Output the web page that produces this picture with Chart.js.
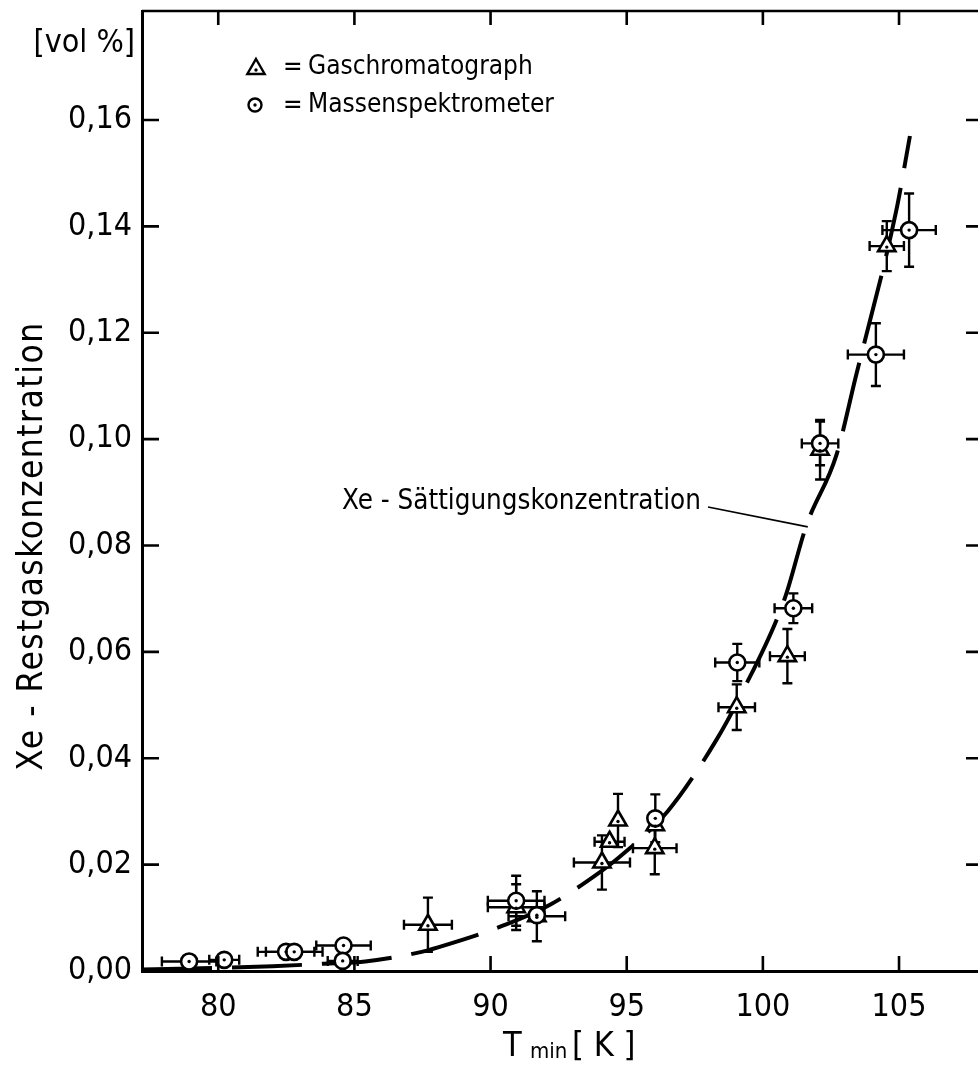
<!DOCTYPE html>
<html>
<head>
<meta charset="utf-8">
<script src="https://cdn.jsdelivr.net/npm/chart.js@4.4.1/dist/chart.umd.min.js"></script>
<style>
  html, body { margin: 0; padding: 0; background: #fff; overflow: hidden; }
  #wrap { position: relative; width: 978px; height: 1072px; }
</style>
</head>
<body>
<div id="wrap"><canvas id="myChart"></canvas></div>
<script>
var FONT = '"DejaVu Sans Condensed", "Liberation Sans Narrow", "Arial Narrow", sans-serif';

// axis ticks
var xTicks = [80, 85, 90, 95, 100, 105];
var yTicks = [0, 0.02, 0.04, 0.06, 0.08, 0.10, 0.12, 0.14, 0.16];

// Gaschromatograph (triangles): T_min [K], conc [vol %], errors
var gcT    = [87.7, 90.94, 91.7, 94.09, 94.37, 94.68, 96.05, 96.03, 99.04, 100.9, 102.1, 104.55];
var gcC    = [0.0087, 0.0120, 0.0103, 0.0204, 0.0243, 0.0283, 0.0274, 0.0231, 0.0496, 0.0592, 0.0980, 0.1363];
var gcTErr = [0.88, 1.04, 1.04, 1.03, 0.55, 0, 0, 0.8, 0.67, 0.64, 0, 0.63];
var gcCErr = [0.0051, 0.0043, 0.0047, 0.0051, 0, 0.005, 0, 0.0049, 0.0043, 0.0051, 0.0056, 0.0047];

// Massenspektrometer (circles)
var msT    = [78.93, 80.22, 82.49, 82.79, 84.6, 84.57, 90.94, 91.7, 96.05, 99.06, 101.12, 102.1, 104.15, 105.37];
var msC    = [0.0018, 0.0021, 0.0036, 0.0036, 0.0048, 0.0019, 0.0132, 0.0105, 0.0287, 0.0580, 0.0682, 0.0992, 0.1159, 0.1393];
var msTErr = [1.0, 0.55, 1.04, 1.04, 1.0, 0.55, 1.04, 0, 0, 0.81, 0.69, 0.67, 1.03, 0.98];
var msCErr = [0, 0, 0, 0, 0, 0, 0.0047, 0, 0.0045, 0.0035, 0.0028, 0.0041, 0.0059, 0.0069];

// Xe saturation curve
var satT = [77.2, 80, 82, 84, 85.4, 87.3, 88.1, 90.6, 92.2, 93.8, 94.7, 96.5, 98.3, 99.2, 100.8, 101.6, 102.7, 103.4, 104.9, 105.4];
var satC = [0.0003, 0.0006, 0.0009, 0.0014, 0.0018, 0.0034, 0.0045, 0.0088, 0.0125, 0.0178, 0.0213, 0.0300, 0.0435, 0.0520, 0.0700, 0.0838, 0.0970, 0.1115, 0.1430, 0.1570];

function points(xs, ys) {
  return xs.map(function (x, i) { return { x: x, y: ys[i] }; });
}

// keep the frame where the original has it: no extra room for tick labels
function noPadding(scale) {
  scale.paddingTop = 0;
  scale.paddingBottom = 0;
  scale.paddingLeft = 0;
  scale.paddingRight = 0;
}

var figurePlugin = {
  id: 'figure',
  beforeDatasetsDraw: function (chart) {
    var ctx = chart.ctx, sx = chart.scales.x, sy = chart.scales.y;
    ctx.save();
    ctx.strokeStyle = '#000';
    ctx.lineWidth = 2.4;
    chart.data.datasets.forEach(function (ds) {
      if (!ds.errX) return;
      ds.data.forEach(function (p, i) {
        var px = sx.getPixelForValue(p.x), py = sy.getPixelForValue(p.y);
        var ex = ds.errX[i], ey = ds.errY[i];
        ctx.beginPath();
        if (ex) {
          var x0 = sx.getPixelForValue(p.x - ex), x1 = sx.getPixelForValue(p.x + ex);
          ctx.moveTo(x0, py); ctx.lineTo(x1, py);
          ctx.moveTo(x0, py - 5); ctx.lineTo(x0, py + 5);
          ctx.moveTo(x1, py - 5); ctx.lineTo(x1, py + 5);
        }
        if (ey) {
          var y0 = sy.getPixelForValue(p.y - ey), y1 = sy.getPixelForValue(p.y + ey);
          ctx.moveTo(px, y0); ctx.lineTo(px, y1);
          ctx.moveTo(px - 5, y0); ctx.lineTo(px + 5, y0);
          ctx.moveTo(px - 5, y1); ctx.lineTo(px + 5, y1);
        }
        ctx.stroke();
      });
    });
    ctx.restore();
  },
  afterDatasetsDraw: function (chart) {
    var ctx = chart.ctx;
    ctx.save();
    ctx.fillStyle = '#000';
    chart.data.datasets.forEach(function (ds, di) {
      if (!ds.errX) return;
      chart.getDatasetMeta(di).data.forEach(function (el) {
        ctx.beginPath();
        ctx.arc(el.x, el.y + (ds.pointStyle === 'triangle' ? 1 : 0), 1.7, 0, Math.PI * 2);
        ctx.fill();
      });
    });
    ctx.restore();
  },
  afterDraw: function (chart) {
    var ctx = chart.ctx, a = chart.chartArea, sx = chart.scales.x, sy = chart.scales.y;
    ctx.save();
    ctx.strokeStyle = '#000';
    ctx.fillStyle = '#000';

    // top frame line
    ctx.lineWidth = 2.6;
    ctx.beginPath();
    ctx.moveTo(a.left, a.top); ctx.lineTo(a.right, a.top);
    ctx.stroke();

    // inward ticks on all four sides
    ctx.beginPath();
    xTicks.forEach(function (v) {
      var x = sx.getPixelForValue(v);
      ctx.moveTo(x, a.bottom); ctx.lineTo(x, a.bottom - 15);
      ctx.moveTo(x, a.top); ctx.lineTo(x, a.top + 14);
    });
    yTicks.forEach(function (v) {
      if (v === 0) return;
      var y = sy.getPixelForValue(v);
      ctx.moveTo(a.left, y); ctx.lineTo(a.left + 17, y);
      ctx.moveTo(a.right, y); ctx.lineTo(a.right - 12, y);
    });
    ctx.stroke();

    // legend
    ctx.lineWidth = 2.4;
    ctx.fillStyle = '#fff';
    Chart.helpers.drawPoint(ctx, { pointStyle: 'triangle', radius: 10, borderWidth: 2.4 }, 256, 69);
    Chart.helpers.drawPoint(ctx, { pointStyle: 'circle', radius: 6.5, borderWidth: 2.4 }, 255, 105);
    ctx.fillStyle = '#000';
    ctx.beginPath(); ctx.arc(256, 70, 1.7, 0, Math.PI * 2); ctx.fill();
    ctx.beginPath(); ctx.arc(255, 105, 1.7, 0, Math.PI * 2); ctx.fill();
    ctx.font = '26px ' + FONT;
    ctx.textBaseline = 'middle';
    ctx.textAlign = 'left';
    ctx.fillText('=', 283, 68);
    ctx.fillText('Gaschromatograph', 308, 67);
    ctx.fillText('=', 283, 106);
    ctx.fillText('Massenspektrometer', 308, 105);

    // curve label with leader line
    ctx.font = '27.5px ' + FONT;
    ctx.fillText('Xe - S\u00e4ttigungskonzentration', 342, 502);
    ctx.lineWidth = 1.6;
    ctx.beginPath();
    ctx.moveTo(708, 507);
    ctx.lineTo(sx.getPixelForValue(101.65), sy.getPixelForValue(0.0835));
    ctx.stroke();

    // unit above y axis
    ctx.font = '32px ' + FONT;
    ctx.textAlign = 'right';
    ctx.fillText('[vol %]', 135, 44);

    // y axis title
    ctx.save();
    ctx.translate(33, 546);
    ctx.rotate(-Math.PI / 2);
    ctx.textAlign = 'center';
    ctx.font = '35px ' + FONT;
    ctx.letterSpacing = '1.5px';
    ctx.fillText('Xe - Restgaskonzentration', 0, 0);
    ctx.restore();

    // x axis title with subscript
    ctx.textAlign = 'left';
    ctx.textBaseline = 'alphabetic';
    ctx.font = '34px ' + FONT;
    ctx.fillText('T', 503, 1056);
    ctx.font = '22px ' + FONT;
    ctx.fillText('min', 530, 1058);
    ctx.font = '34px ' + FONT;
    ctx.fillText('[ K ]', 572, 1056);
    ctx.restore();
  }
};

new Chart('myChart', {
  type: 'scatter',
  data: {
    datasets: [{
      label: 'Gaschromatograph',
      data: points(gcT, gcC),
      errX: gcTErr,
      errY: gcCErr,
      pointStyle: 'triangle',
      pointRadius: 10,
      borderWidth: 2.6,
      borderColor: '#000',
      backgroundColor: '#fff',
      order: 2
    }, {
      label: 'Massenspektrometer',
      data: points(msT, msC),
      errX: msTErr,
      errY: msCErr,
      pointStyle: 'circle',
      pointRadius: 8,
      borderWidth: 2.6,
      borderColor: '#000',
      backgroundColor: '#fff',
      order: 1
    }, {
      label: 'Xe - Saettigungskonzentration',
      type: 'line',
      data: points(satT, satC),
      showLine: true,
      pointRadius: 0,
      borderColor: '#000',
      borderWidth: 4,
      borderDash: [70, 20],
      cubicInterpolationMode: 'monotone',
      fill: false,
      order: 3
    }]
  },
  options: {
    responsive: true,
    maintainAspectRatio: false,
    devicePixelRatio: 1,
    animation: false,
    layout: { autoPadding: false, padding: { top: 11, right: 0, left: 0, bottom: 0 } },
    plugins: {
      legend: { display: false },
      tooltip: { enabled: false },
      title: { display: false }
    },
    scales: {
      x: {
        type: 'linear',
        min: 77.2,
        max: 107.9,
        afterBuildTicks: function (scale) {
          scale.ticks = xTicks.map(function (v) { return { value: v }; });
        },
        afterFit: function (scale) { scale.height = 101; noPadding(scale); },
        grid: { display: false, drawTicks: false },
        border: { display: true, color: '#000', width: 3 },
        ticks: {
          color: '#000',
          padding: 17,
          maxRotation: 0,
          font: { family: FONT, size: 32 }
        }
      },
      y: {
        type: 'linear',
        min: 0,
        max: 0.1805,
        afterBuildTicks: function (scale) {
          scale.ticks = yTicks.map(function (v) { return { value: v }; });
        },
        afterFit: function (scale) { scale.width = 142; noPadding(scale); },
        grid: { display: false, drawTicks: false },
        border: { display: true, color: '#000', width: 3 },
        ticks: {
          color: '#000',
          padding: 10,
          font: { family: FONT, size: 32 },
          callback: function (v) { return v.toFixed(2).replace('.', ','); }
        }
      }
    }
  },
  plugins: [figurePlugin]
});
</script>
</body>
</html>
